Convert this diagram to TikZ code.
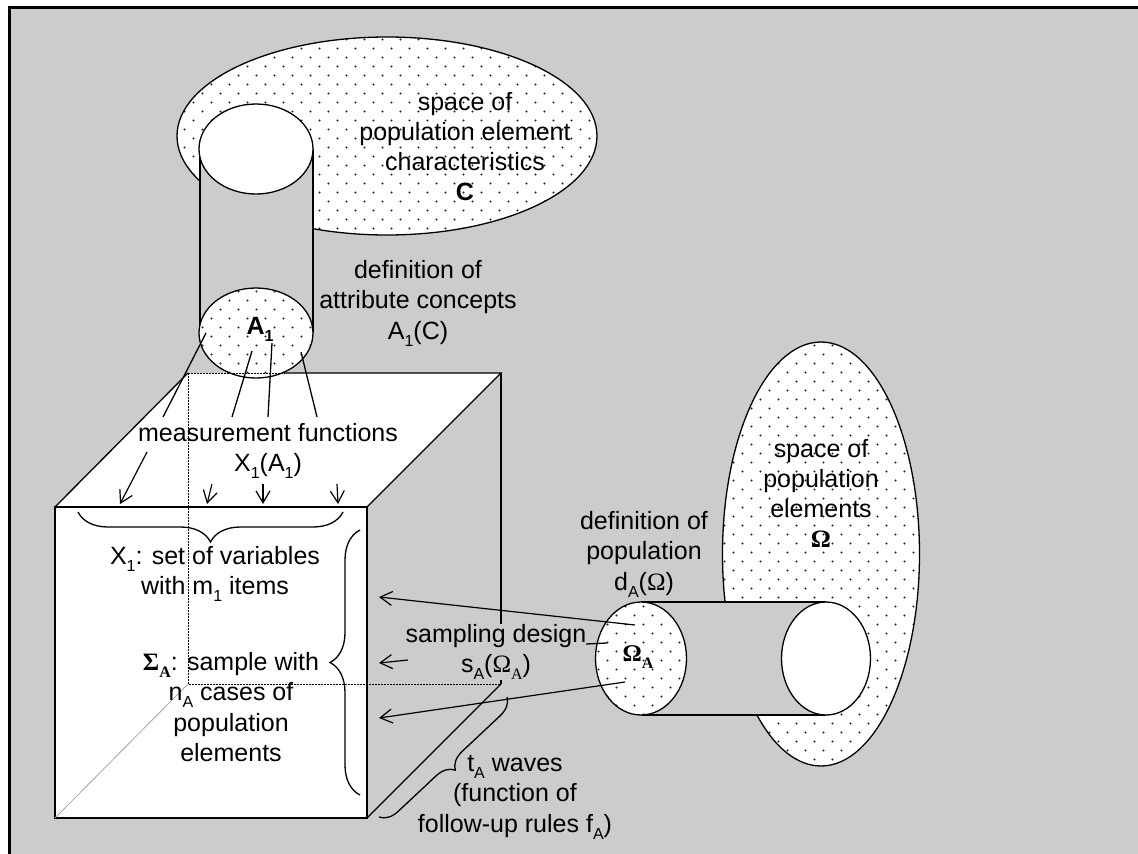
\documentclass[tikz,border=0pt]{standalone}
\usepackage{fontspec}
\setmainfont{Liberation Sans}
\newfontfamily\tms{Liberation Serif}
\usetikzlibrary{patterns,arrows.meta,decorations.pathreplacing}
\definecolor{bggray}{HTML}{CCCCCC}
\pgfdeclarepatternformonly{sparsedots}{\pgfqpoint{-1pt}{-1pt}}{\pgfqpoint{19pt}{19pt}}{\pgfqpoint{18pt}{18pt}}{%
  \pgfpathcircle{\pgfqpoint{4.5pt}{4.5pt}}{1.1pt}%
  \pgfpathcircle{\pgfqpoint{13.5pt}{13.5pt}}{1.1pt}%
  \pgfusepath{fill}}
\newcommand{\sub}[1]{\raisebox{-0.28em}{\fontsize{16}{16}\selectfont #1}}
\tikzset{
  lbl/.style={align=center, inner sep=0pt, font=\fontsize{25}{30.5}\selectfont},
  edge/.style={line width=1.3pt},
  arr/.style={line width=1.2pt, -{Straight Barb[length=12pt,width=14pt,line width=1.2pt]}},
  dotfill/.style={preaction={fill=white}, pattern=sparsedots, pattern color=black!85},
  br/.style={decorate, decoration={brace, amplitude=#1}, line width=1.3pt},
  hidden/.style={line width=0.8pt, dash pattern=on 1.5pt off 1.5pt},
}
\begin{document}
\begin{tikzpicture}[x=1pt,y=1pt]
\useasboundingbox (0,0) rectangle (1138,-854);
\fill[white] (0,0) rectangle (1138,-854);
\fill[bggray] (11,-9) rectangle (1138,-854);
\fill[black] (8,-6) rectangle (1138,-9);
\fill[black] (8,-6) rectangle (11,-854);

% space C
\draw[edge, dotfill] (387,-136) ellipse [x radius=210, y radius=99];
% attribute cylinder
\fill[bggray] (200,-149) rectangle (313,-333);
\draw[edge] (200,-149) -- (200,-333) (313,-149) -- (313,-333);
\draw[edge, fill=white] (256,-149) ellipse [x radius=57, y radius=45];

% cube
\fill[white] (55,-507) -- (188,-373) -- (501,-373) -- (367,-507) -- cycle;
\draw[edge, fill=white] (55,-507) rectangle (367,-818);
\draw[edge] (55,-507) -- (188,-373);
\draw[edge] (285,-373) -- (501,-373) -- (367,-507);
\draw[edge] (501,-373) -- (501,-684);
\draw[edge] (501,-684) -- (367,-818);
\draw[hidden] (188,-373) -- (188,-684) -- (501,-684);
\draw[gray!70, line width=0.8pt] (55,-818) -- (188,-684);

% A1 ellipse
\draw[edge, dotfill] (256,-333) ellipse [x radius=57, y radius=45];
\draw[hidden] (188,-373) -- (285,-373);

% population space
\draw[edge, dotfill] (821,-554) ellipse [x radius=98.5, y radius=212];
\fill[bggray] (641,-602) rectangle (826,-715);
\draw[edge] (641,-602) -- (826,-602) (641,-715) -- (826,-715);
\draw[edge, fill=white] (826,-658.5) ellipse [x radius=44.5, y radius=56.5];
\draw[edge, dotfill] (641,-658.5) ellipse [x radius=45.5, y radius=56.5];

% labels
\node[lbl, font=\fontsize{25}{30}\selectfont] (ctext) at (465,-147) {space of\\population element\\characteristics\\\textbf{C}};
\node[lbl] (attr) at (418,-303) {definition of\\attribute concepts\\A\sub{1}(C)};
\node[lbl, font=\fontsize{25}{30}\selectfont\bfseries] (a1) at (260,-329) {A\sub{1}};
\node[lbl] (meas) at (268,-451) {measurement functions\\X\sub{1}(A\sub{1})};
\node[lbl] (xset) at (215,-574) {X\sub{1}: set of variables\\with m\sub{1} items};
\node[lbl] (sigma) at (231,-707) {{\tms\bfseries\fontsize{25}{25}\selectfont Σ\sub{A}}: sample with\\n\sub{A} cases of\\population\\elements};
\node[lbl, fill=bggray] (samp) at (496,-652) {sampling design\\s\sub{A}({\tms Ω\sub{A}})};
\node[lbl] (waves) at (515,-797) {t\sub{A} waves\\(function of\\follow-up rules f\sub{A})};
\node[lbl] (defpop) at (644,-554) {definition of\\population\\d\sub{A}({\tms Ω})};
\node[lbl, font=\fontsize{25}{30}\selectfont] (omtext) at (821,-493) {space of\\population\\elements\\{\tms\bfseries Ω}};
\node[lbl] (omA) at (638,-657) {\tms\bfseries\fontsize{24}{24}\selectfont Ω\sub{A}};

% measurement connectors
\coordinate (p1) at (206,-333); \coordinate (q1) at (163,-417);
\coordinate (p2) at (252,-351); \coordinate (q2) at (232,-417);
\coordinate (p3) at (272,-343); \coordinate (q3) at (268,-417);
\coordinate (p4) at (301,-352); \coordinate (q4) at (317,-417);
\draw[edge] (p1) -- (q1);
\draw[edge] (p2) -- (q2);
\draw[edge] (p3) -- (q3);
\draw[edge] (p4) -- (q4);

\coordinate (r1) at (147,-452); \coordinate (t1) at (120,-504);
\coordinate (r2) at (212,-484); \coordinate (t2) at (207,-504);
\coordinate (r3) at (263,-484); \coordinate (t3) at (263,-504);
\coordinate (r4) at (337,-484); \coordinate (t4) at (338,-504);
\draw[arr] (r1) -- (t1);
\draw[arr] (r2) -- (t2);
\draw[arr] (r3) -- (t3);
\draw[arr] (r4) -- (t4);

% braces
\draw[br=30] (343,-512) -- (78,-512);
\draw[br=30] (360,-795) -- (360,-530);
\draw[br=18] (507,-697) -- (379,-817);

% sampling connectors
\coordinate (sa) at (635,-625); \coordinate (ta) at (379,-597);
\coordinate (sb) at (408,-660); \coordinate (tb) at (379,-663);
\coordinate (sc) at (625,-682); \coordinate (tc) at (379,-718);
\coordinate (sd) at (586,-644); \coordinate (td) at (607,-643);
\draw[arr] (sa) -- (ta);
\draw[arr] (sb) -- (tb);
\draw[arr] (sc) -- (tc);
\draw[edge] (sd) -- (td);
\end{tikzpicture}
\end{document}
